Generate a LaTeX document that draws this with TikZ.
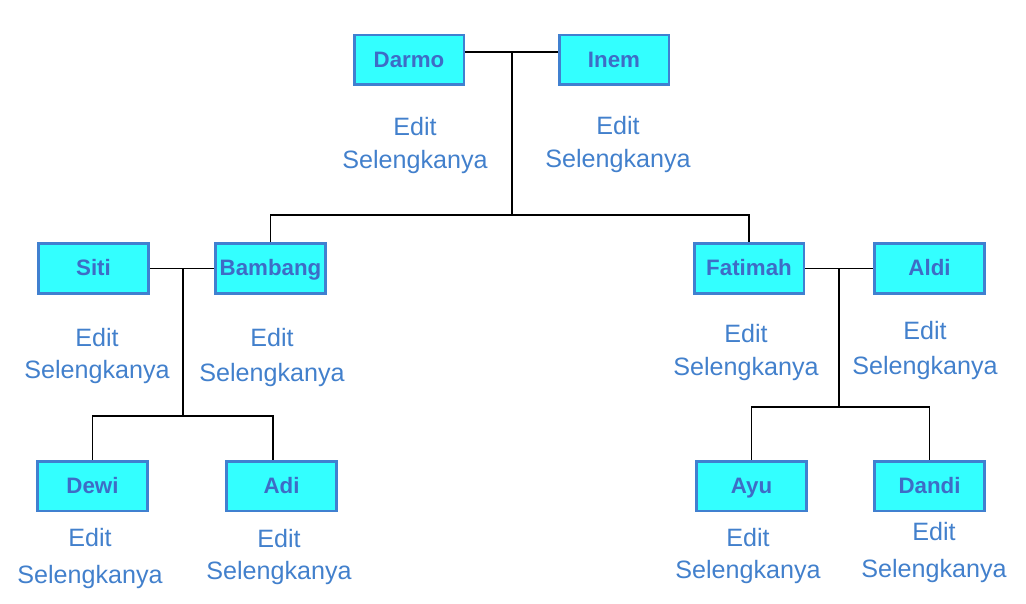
\documentclass[tikz,border=0pt]{standalone}
\usepackage{fontspec}
\setmainfont{Liberation Sans}
\definecolor{personfill}{RGB}{51,255,255}
\definecolor{personedge}{RGB}{64,128,208}
\definecolor{personname}{RGB}{62,108,198}
\definecolor{linkblue}{RGB}{66,128,204}
\begin{document}
\begin{tikzpicture}[x=0.02cm,y=-0.02cm,
  person/.style={draw=personedge,fill=personfill,line width=1.7pt,minimum width=2.2cm,minimum height=1cm,inner sep=0pt,text height=8pt,text depth=0pt,text=personname,font=\bfseries\fontsize{12.7}{15}\selectfont},
  links/.style={text=linkblue,align=center,inner sep=0pt,font=\fontsize{14.3}{18.7}\selectfont},
  tie/.style={black,line width=1pt}]
\useasboundingbox (0,0) rectangle (1026,604);
\node[person] (darmo) at (409,60) {Darmo};
\node[person] (inem) at (614,60) {Inem};
\node[person] (siti) at (93.5,268.5) {Siti};
\node[person] (bambang) at (270.5,268.5) {Bambang};
\node[person] (fatimah) at (749,268.5) {Fatimah};
\node[person] (aldi) at (929.5,268.5) {Aldi};
\node[person] (dewi) at (92.5,486) {Dewi};
\node[person] (adi) at (281.5,486) {Adi};
\node[person] (ayu) at (751.5,486) {Ayu};
\node[person] (dandi) at (929.5,486) {Dandi};
\node[links] (darmoinfo) at (415,145.5) {Edit\\Selengkanya};
\node[links] (ineminfo) at (618,144.5) {Edit\\Selengkanya};
\node[links] (sitiinfo) at (97,356) {Edit\\Selengkanya};
\node[links] (bambanginfo) at (272,357.5) {Edit\\[1pt]Selengkanya};
\node[links] (fatimahinfo) at (746,352.5) {Edit\\Selengkanya};
\node[links] (aldiinfo) at (925,350.5) {Edit\\[1pt]Selengkanya};
\node[links] (dewiinfo) at (90,558.5) {Edit\\[2.8pt]Selengkanya};
\node[links] (adiinfo) at (279,557) {Edit\\Selengkanya};
\node[links] (ayuinfo) at (748,556) {Edit\\Selengkanya};
\node[links] (dandiinfo) at (934,552.5) {Edit\\[2.8pt]Selengkanya};
\coordinate (m1) at (512,52);
\coordinate (j1) at (512,215);
\coordinate (m2) at (183,269);
\coordinate (j2) at (183,416);
\coordinate (k2) at (273,416);
\coordinate (m3) at (839,269);
\coordinate (j3) at (839,407);
\draw[tie] (darmo.east |- m1) -- (inem.west |- m1);
\draw[tie] (m1) -- (j1);
\draw[tie] (bambang.north) |- (j1) -| (fatimah.north);
\draw[tie] (siti.east) -- (bambang.west);
\draw[tie] (m2) -- (j2);
\draw[tie] (dewi.north) |- (j2) -- (k2) -- (k2 |- adi.north);
\draw[tie] (fatimah.east) -- (aldi.west);
\draw[tie] (m3) -- (j3);
\draw[tie] (ayu.north) |- (j3) -| (dandi.north);
\end{tikzpicture}
\end{document}
